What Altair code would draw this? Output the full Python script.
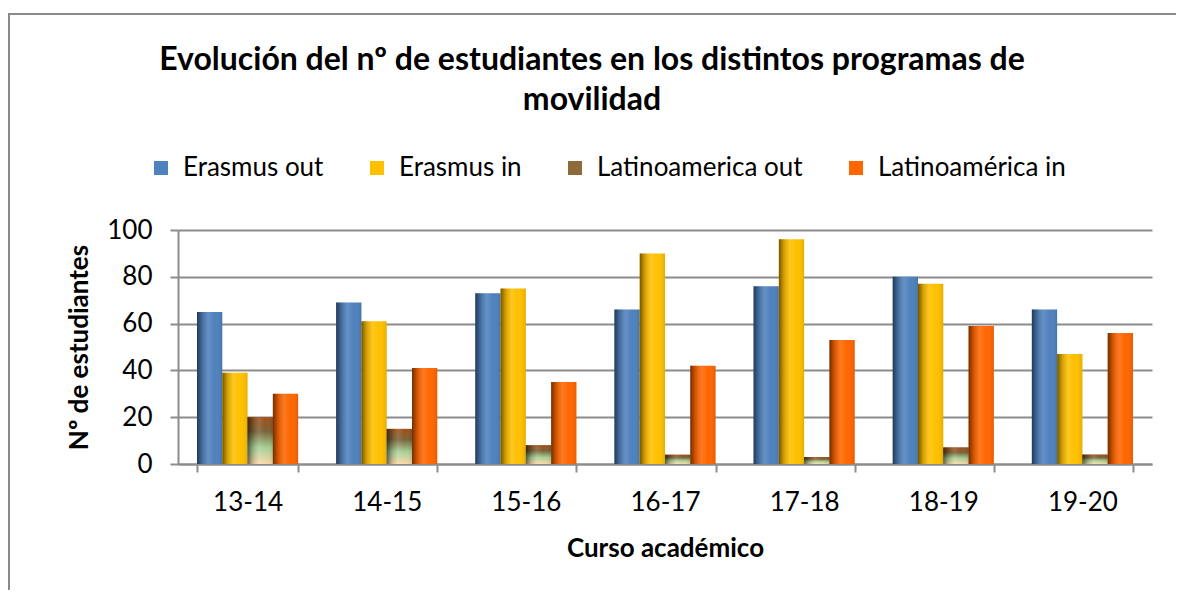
import altair as alt
import pandas as pd

cursos = ["13-14", "14-15", "15-16", "16-17", "17-18", "18-19", "19-20"]
series = ["Erasmus out", "Erasmus in", "Latinoamerica out", "Latinoamérica in"]
erasmus_out = [65, 69, 73, 66, 76, 80, 66]
erasmus_in = [39, 61, 75, 90, 96, 77, 47]
latino_out = [20, 15, 8, 4, 3, 7, 4]
latino_in = [30, 41, 35, 42, 53, 59, 56]
colores = ["#4f81bd", "#ffc000", "#8e6a3a", "#ff6600"]

rows = []
for s, vals in zip(series, [erasmus_out, erasmus_in, latino_out, latino_in]):
    for c, v in zip(cursos, vals):
        rows.append({"curso": c, "serie": s, "valor": v})
df = pd.DataFrame(rows)

FONT = "Lato"

x_enc = alt.X("curso:N", sort=cursos,
              scale=alt.Scale(paddingInner=0.273, paddingOuter=0.1365),
              axis=alt.Axis(title="Curso académico", labelAngle=0, tickBand="extent",
                            labelPadding=17, titlePadding=20))
xo_enc = alt.XOffset("serie:N", sort=series, scale=alt.Scale(domain=series, paddingInner=0, paddingOuter=0))
y_enc = alt.Y("valor:Q", scale=alt.Scale(domain=[0, 100]),
              axis=alt.Axis(title="Nº de estudiantes", values=[0, 20, 40, 60, 80, 100],
                            labelPadding=18, titlePadding=14))

base = alt.Chart(df)

bars = base.mark_bar(strokeWidth=0).encode(
    x=x_enc, xOffset=xo_enc, y=y_enc,
    color=alt.Color("serie:N", sort=series,
                    scale=alt.Scale(domain=series, range=colores),
                    legend=alt.Legend(title=None, orient="none", direction="horizontal",
                                      legendX=-30, legendY=-75, symbolType="square",
                                      symbolSize=196, symbolStrokeWidth=0,
                                      labelFontSize=26, labelFont=FONT, labelColor="#000",
                                      labelLimit=500, columnPadding=40, labelOffset=9,
                                      padding=0)),
)

grad_v = alt.Gradient(
    gradient="linear", x1=0, x2=0, y1=0, y2=1,
    stops=[alt.GradientStop(color="#a0501a", offset=0),
           alt.GradientStop(color="#7a6236", offset=0.3),
           alt.GradientStop(color="#a6d096", offset=0.65),
           alt.GradientStop(color="#fbd9a8", offset=1)],
)
latino = base.transform_filter(alt.datum.serie == "Latinoamerica out").mark_bar(
    fill=grad_v, strokeWidth=0).encode(x=x_enc, xOffset=xo_enc, y=y_enc)

grad_h = alt.Gradient(
    gradient="linear", x1=0, x2=1, y1=0, y2=0,
    stops=[alt.GradientStop(color="rgba(0,0,0,0.55)", offset=0),
           alt.GradientStop(color="rgba(0,0,0,0.18)", offset=0.2),
           alt.GradientStop(color="rgba(255,255,255,0.12)", offset=0.45),
           alt.GradientStop(color="rgba(255,255,255,0.0)", offset=0.7),
           alt.GradientStop(color="rgba(0,0,0,0.1)", offset=1)],
)
shade = base.mark_bar(fill=grad_h, strokeWidth=0).encode(x=x_enc, xOffset=xo_enc, y=y_enc)

frame = alt.Chart(pd.DataFrame({"a": [0]})).mark_rect(
    fill=None, stroke="#8a8a8a", strokeWidth=2).encode(
    x=alt.value(-169), x2=alt.value(1080), y=alt.value(-216), y2=alt.value(420))

chart = alt.layer(frame, bars, latino, shade).properties(
    width=974, height=234,
    autosize=alt.AutoSizeParams(type="none"),
    padding={"left": 170, "top": 222, "right": 24, "bottom": 126},
    title=alt.TitleParams(
        text=["Evolución del nº de estudiantes en los distintos programas de", "movilidad"],
        font=FONT, fontSize=32, fontWeight="bold", color="#000",
        anchor="middle", dx=-73, offset=-104, lineHeight=40),
).configure_view(stroke=None).configure_axis(
    labelFont=FONT, titleFont=FONT, labelFontSize=26, titleFontSize=26,
    labelColor="#000", titleColor="#000", titleFontWeight="bold",
    domainColor="#8c8c8c", domainWidth=2, tickColor="#8c8c8c", tickWidth=2, tickSize=8,
    gridColor="#8c8c8c", gridWidth=2,
).configure_axisX(grid=False).configure_axisY(grid=True)

chart.save("out.html", embed_options={"renderer": "svg", "actions": False})
